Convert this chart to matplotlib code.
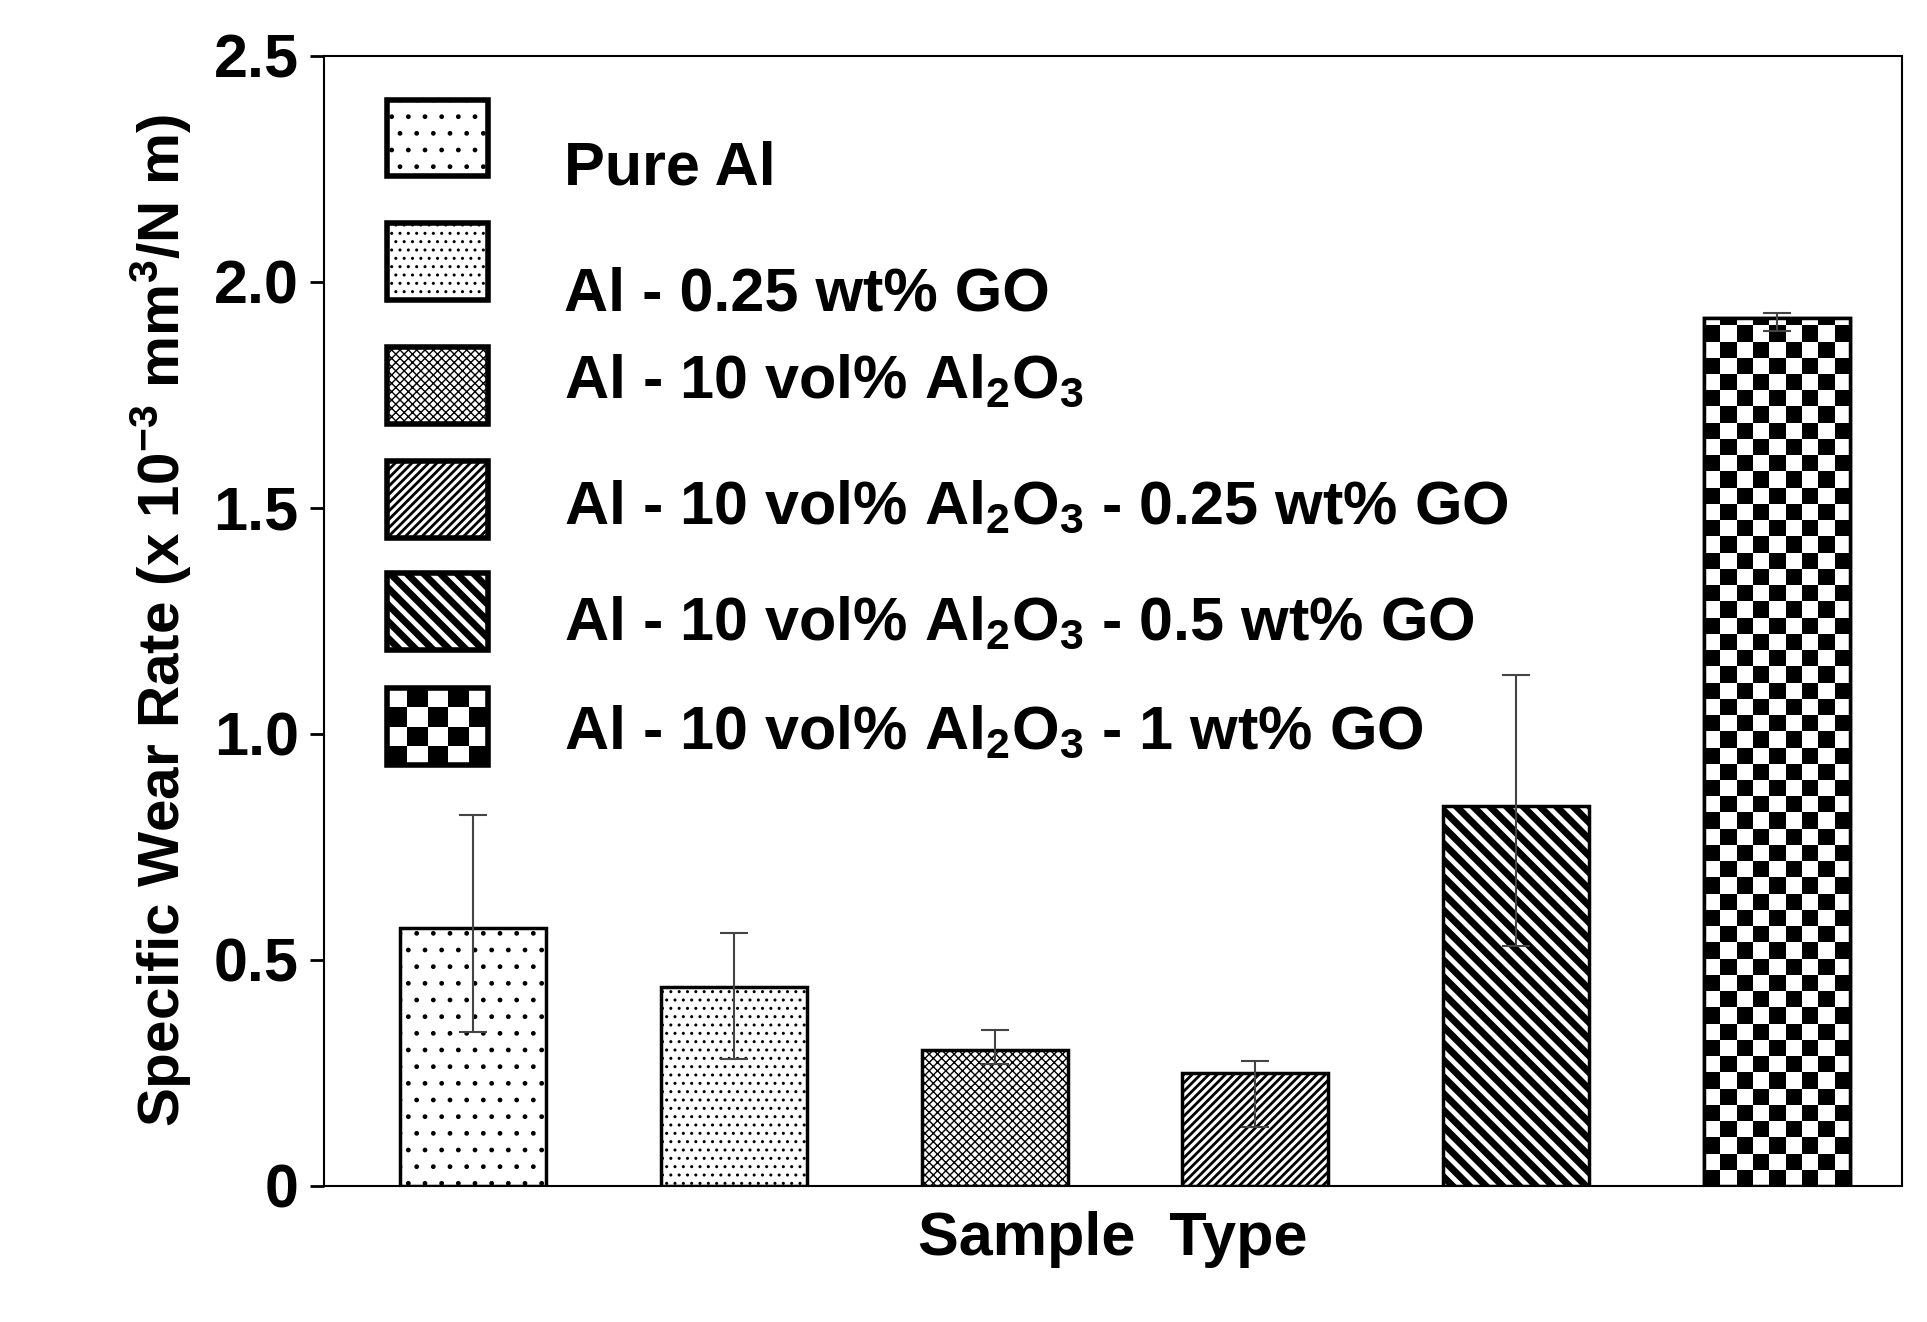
import numpy as np
import matplotlib
matplotlib.use('Agg')
import matplotlib.pyplot as plt
from matplotlib.patches import Rectangle

plt.rcParams['font.family'] = ['Liberation Sans', 'DejaVu Sans']
plt.rcParams['font.weight'] = 'bold'
plt.rcParams['axes.labelweight'] = 'bold'
plt.rcParams['mathtext.fontset'] = 'custom'
plt.rcParams['mathtext.rm'] = 'Liberation Sans:bold'
plt.rcParams['mathtext.bf'] = 'Liberation Sans:bold'
plt.rcParams['mathtext.default'] = 'bf'

# data
labels = ['Pure Al', 'Al - 0.25 wt% GO', 'Al - 10 vol% Al$_2$O$_3$',
          'Al - 10 vol% Al$_2$O$_3$ - 0.25 wt% GO',
          'Al - 10 vol% Al$_2$O$_3$ - 0.5 wt% GO',
          'Al - 10 vol% Al$_2$O$_3$ - 1 wt% GO']
wear = [0.57, 0.44, 0.30, 0.25, 0.84, 1.92]
err_low = [0.23, 0.16, 0.03, 0.12, 0.31, 0.03]
err_up = [0.25, 0.12, 0.045, 0.025, 0.29, 0.01]
hatches = ['.', '..', 'xxxx', '////', '\\\\', None]
hatch_lw = [1.0, 1.0, 1.0, 2.0, 5.0, 1.0]

fig = plt.figure(figsize=(19.27, 13.22), dpi=100)
ax = fig.add_axes([0.168, 0.103, 0.819, 0.855])

x = np.arange(len(wear))
w = 0.56
xlim = (-0.573, 5.48)
ylim = (0, 2.5)
bars = ax.bar(x, wear, width=w, color='white', edgecolor='black', linewidth=2.5,
              zorder=2)
for b, h, lw in zip(bars, hatches, hatch_lw):
    if h:
        b.set_hatch(h)
        if hasattr(b, 'set_hatch_linewidth'):
            b.set_hatch_linewidth(lw)

ax.errorbar(x, wear, yerr=[err_low, err_up], fmt='none', ecolor='#444444',
            elinewidth=1.5, capsize=10, capthick=1.5, zorder=3)

# checkerboard fill for the last bar, squares kept square on screen
def checker(nx, ny):
    return (np.add.outer(np.arange(ny), np.arange(nx)) % 2).astype(float)

last = bars[-1]
x0, hgt = last.get_x(), last.get_height()
px_per_x = 0.819 * 1927 / (xlim[1] - xlim[0])
px_per_y = 0.855 * 1322 / (ylim[1] - ylim[0])
sq_px = w * px_per_x / 9
sq_y = sq_px / px_per_y
ny = int(hgt / sq_y) + 1
im = ax.imshow(checker(9, ny), cmap='gray', extent=[x0, x0 + w, 0, ny * sq_y],
               origin='lower', interpolation='nearest', aspect='auto', zorder=2.5)
im.set_clip_path(last)
ax.add_patch(Rectangle((x0, 0), w, hgt, fill=False, edgecolor='black', lw=2.5, zorder=2.6))

ax.set_xlim(*xlim)
ax.set_ylim(*ylim)
ax.set_yticks([0, 0.5, 1.0, 1.5, 2.0, 2.5])
ax.set_yticklabels(['0', '0.5', '1.0', '1.5', '2.0', '2.5'])
ax.set_xticks([])
ax.tick_params(axis='y', labelsize=44, width=2, length=10, pad=8)
for s in ax.spines.values():
    s.set_linewidth(1.5)
ax.set_xlabel('Sample  Type', fontsize=44, labelpad=18)
ax.set_ylabel('Specific Wear Rate (x 10$^{-3}$ mm$^3$/N m)', fontsize=42, labelpad=14)

# legend drawn by hand to keep the original irregular spacing
patch_y = [0.927, 0.818, 0.708, 0.607, 0.508, 0.406]
text_y = [0.900, 0.788, 0.711, 0.600, 0.497, 0.401]
px, pw, ph = 0.040, 0.064, 0.068
for i in range(len(labels)):
    r = Rectangle((px, patch_y[i] - ph / 2), pw, ph, transform=ax.transAxes,
                  facecolor='white', edgecolor='black', lw=4, zorder=4)
    if hatches[i]:
        r.set_hatch(hatches[i])
        if hasattr(r, 'set_hatch_linewidth'):
            r.set_hatch_linewidth(hatch_lw[i])
    ax.add_patch(r)
    if hatches[i] is None:
        cim = ax.imshow(checker(5, 4), cmap='gray', origin='lower',
                        interpolation='nearest', transform=ax.transAxes,
                        extent=[px, px + pw, patch_y[i] - ph / 2, patch_y[i] + ph / 2],
                        aspect='auto', zorder=3.9)
        cim.set_clip_path(r)
        r.set_facecolor('none')
    ax.text(0.152, text_y[i], labels[i], transform=ax.transAxes, fontsize=44,
            va='center', ha='left', zorder=5)

ax.set_xlim(*xlim)
ax.set_ylim(*ylim)
fig.savefig('out.png', dpi=100)
